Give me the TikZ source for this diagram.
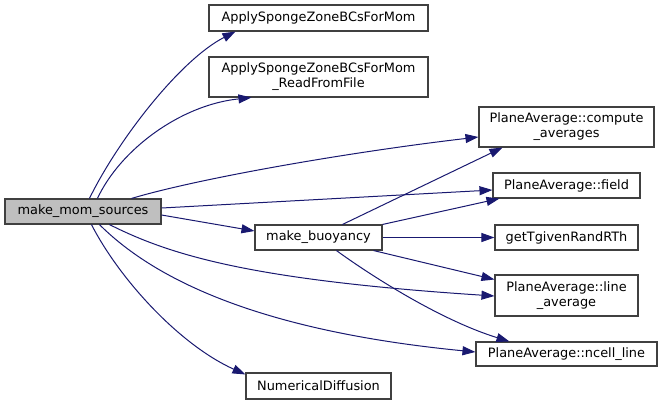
\documentclass[tikz,border=0pt]{standalone}
\usepackage{fontspec}
\setmainfont{DejaVu Sans}
\usepackage{tikz}
\usetikzlibrary{
  arrows.meta,              % 箭头样式
  calc                      % 坐标计算
}
\definecolor{edgeblue}{HTML}{191970}
\definecolor{boxgray}{HTML}{404040}
\definecolor{callerfill}{HTML}{BFBFBF}
\tikzset{
  func box/.style={
    draw=boxgray,
    fill=white,
    line width=1.1pt,
    inner sep=0pt,
    align=center,
    font=\fontsize{12.9}{15}\selectfont
  },
  caller box/.style={
    func box,
    fill=callerfill
  },
  call edge/.style={
    -{Triangle[length=13pt, width=9pt]},
    line width=1pt,
    color=edgeblue
  }
}

\begin{document}
\begin{tikzpicture}[x=1pt, y=-1pt]

  \useasboundingbox (0,0) rectangle (663,408);

  % 1. 调用者节点
  \node[caller box, minimum width=156pt, minimum height=25pt] (mms) at (83,211.5) {make\_mom\_sources};

  % 2. 第二列：被调用函数
  \node[func box, minimum width=219pt, minimum height=26pt] (sponge) at (318.5,18) {ApplySpongeZoneBCsForMom};
  \node[func box, minimum width=219pt, minimum height=40pt] (spongefile) at (318.5,77) {ApplySpongeZoneBCsForMom\\\_ReadFromFile};
  \node[func box, minimum width=127pt, minimum height=25pt] (buoy) at (318.5,237.5) {make\_buoyancy};
  \node[func box, minimum width=145pt, minimum height=26pt] (numdiff) at (318.5,386) {NumericalDiffusion};

  % 3. 第三列：PlaneAverage 等
  \node[func box, minimum width=175pt, minimum height=40pt] (compavg) at (566.5,127) {PlaneAverage::compute\\\_averages};
  \node[func box, minimum width=147pt, minimum height=25pt] (field) at (566.5,185.5) {PlaneAverage::field};
  \node[func box, minimum width=143pt, minimum height=25pt] (tgiven) at (566.5,237.5) {getTgivenRandRTh};
  \node[func box, minimum width=143pt, minimum height=41pt] (lineavg) at (566.5,295.5) {PlaneAverage::line\\\_average};
  \node[func box, minimum width=181pt, minimum height=24pt] (ncell) at (566.5,354) {PlaneAverage::ncell\_line};

  % 4. make_mom_sources 的调用边
  \draw[call edge] ($(mms.north west)+(85,0)$) .. controls (118,140) and (180,60) .. ($(sponge.south west)+(27,0)$);
  \draw[call edge] ($(mms.north west)+(93,0)$) .. controls (120,150) and (180,105) .. ($(spongefile.south west)+(43,0)$);
  \draw[call edge] ($(mms.north west)+(127,0)$) .. controls (200,178) and (350,152) .. ($(compavg.west)+(0,10)$);
  \draw[call edge] ($(mms.east)+(0,-3.5)$) -- ($(field.west)+(0,4.5)$);
  \draw[call edge] ($(mms.east)+(0,3.5)$) -- ($(buoy.west)+(0,-6.5)$);
  \draw[call edge] ($(mms.south west)+(105,0)$) .. controls (170,255) and (250,280) .. ($(lineavg.west)+(0,0.5)$);
  \draw[call edge] ($(mms.south west)+(95,0)$) .. controls (150,275) and (250,330) .. ($(ncell.west)+(0,-2)$);
  \draw[call edge] ($(mms.south west)+(87,0)$) .. controls (120,280) and (180,345) .. ($(numdiff.north west)+(0,2)$);

  % 5. make_buoyancy 的调用边
  \draw[call edge] ($(buoy.north west)+(88,0)$) -- ($(compavg.south west)+(24,0)$);
  \draw[call edge] (buoy.north east) -- ($(field.south west)+(7,0)$);
  \draw[call edge] (buoy.east) -- (tgiven.west);
  \draw[call edge] ($(buoy.south east)+(-9,0)$) -- ($(lineavg.west)+(0,-16)$);
  \draw[call edge] ($(buoy.south west)+(82,0)$) .. controls (370,275) and (440,320) .. ($(ncell.north west)+(34,0)$);

\end{tikzpicture}
\end{document}
